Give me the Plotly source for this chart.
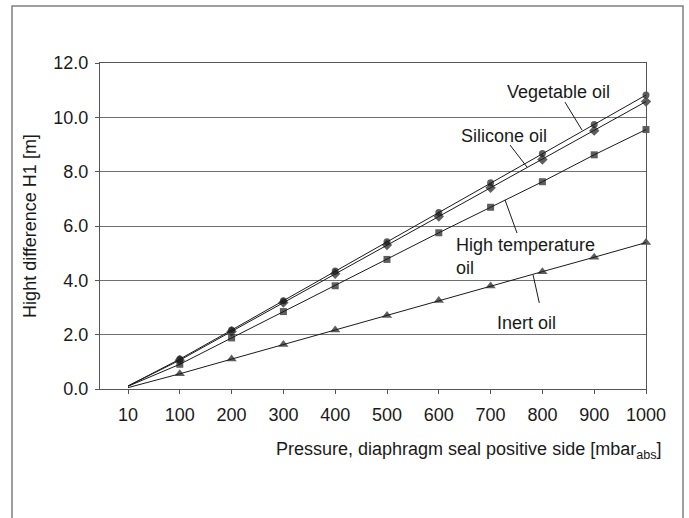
import plotly.graph_objects as go

# Pressure categories (mbar abs) and height difference H1 [m] per fill fluid
pressure_labels = ["10", "100", "200", "300", "400", "500", "600", "700", "800", "900", "1000"]
vegetable_oil = [0.11, 1.10, 2.17, 3.25, 4.34, 5.42, 6.50, 7.59, 8.67, 9.74, 10.82]
silicone_oil = [0.11, 1.06, 2.12, 3.18, 4.24, 5.30, 6.35, 7.41, 8.45, 9.51, 10.58]
high_temp_oil = [0.10, 0.91, 1.88, 2.85, 3.80, 4.77, 5.75, 6.69, 7.63, 8.62, 9.55]
inert_oil = [0.05, 0.56, 1.10, 1.64, 2.17, 2.71, 3.26, 3.79, 4.32, 4.85, 5.39]

FONT = "Liberation Sans, Arial, sans-serif"
INK = "#1a1a1a"

x_idx = list(range(len(pressure_labels)))

fig = go.Figure()
series = [
    ("Vegetable oil", vegetable_oil, "circle", 7),
    ("Silicone oil", silicone_oil, "diamond", 8),
    ("High temperature oil", high_temp_oil, "square", 7),
    ("Inert oil", inert_oil, "triangle-up", 9),
]
for name, vals, sym, size in series:
    # no marker at the first (10 mbar) point
    msize = [0] + [size] * (len(vals) - 1)
    fig.add_trace(go.Scatter(
        x=x_idx, y=vals, name=name, mode="lines+markers",
        line=dict(color=INK, width=1),
        marker=dict(symbol=sym, size=msize, color=INK, line=dict(width=0)),
        cliponaxis=False, showlegend=False,
    ))

# Callout labels with leader lines
labels = [
    dict(text="Vegetable oil", x=8.315, y=10.93, xanchor="center", line=((8.436, 10.56), (8.765, 9.53))),
    dict(text="Silicone oil", x=7.259, y=9.31, xanchor="center", line=((7.375, 8.98), (7.703, 8.17))),
    dict(text="High temperature<br>oil", x=6.29, y=4.87, xanchor="left", line=((7.51, 5.74), (7.278, 6.96))),
    dict(text="Inert oil", x=7.70, y=2.42, xanchor="center", line=((7.82, 4.20), (7.94, 3.17))),
]
for lab in labels:
    fig.add_annotation(
        x=lab["x"], y=lab["y"], xref="x", yref="y", text=lab["text"],
        showarrow=False, xanchor=lab["xanchor"], yanchor="middle", align="left",
        font=dict(family=FONT, size=18, color=INK),
    )
    (x0, y0), (x1, y1) = lab["line"]
    fig.add_shape(type="line", xref="x", yref="y", x0=x0, y0=y0, x1=x1, y1=y1,
                  line=dict(color=INK, width=1))

# Outer frame around the whole figure
fig.add_shape(type="rect", xref="paper", yref="paper",
              x0=-0.1612, x1=1.0678, y0=-0.45, y1=1.1748,
              line=dict(color="#808080", width=1.5), layer="below")

# x axis title with subscript unit
fig.add_annotation(
    xref="paper", yref="paper", x=1.0329, y=-0.19, xanchor="right", yanchor="middle",
    text="Pressure, diaphragm seal positive side [mbar<sub>abs</sub>]", showarrow=False,
    font=dict(family=FONT, size=18, color=INK),
)

fig.update_layout(
    width=689, height=518,
    margin=dict(l=100, r=43, t=63, b=129),
    paper_bgcolor="white", plot_bgcolor="white",
    font=dict(family=FONT, size=18, color=INK),
    xaxis=dict(
        range=[-0.5405, 10], tickmode="array", tickvals=x_idx, ticktext=pressure_labels,
        showgrid=False, zeroline=False, showline=True, linecolor="#555555", linewidth=1,
        mirror=True, ticks="outside", ticklen=4, tickcolor="#555555", ticklabelstandoff=5,
        tickfont=dict(family=FONT, size=18, color=INK),
    ),
    yaxis=dict(
        range=[0, 12], tickmode="array", tickvals=[0, 2, 4, 6, 8, 10, 12], tickformat=".1f",
        showgrid=True, gridcolor="#707070", gridwidth=1, zeroline=False,
        showline=True, linecolor="#555555", linewidth=1, mirror=True,
        ticks="outside", ticklen=4, tickcolor="#555555", ticklabelstandoff=3,
        tickfont=dict(family=FONT, size=18, color=INK),
        title=dict(text="Hight difference H1 [m]", standoff=12,
                   font=dict(family=FONT, size=18, color=INK)),
    ),
)

fig.write_html("out.html")
